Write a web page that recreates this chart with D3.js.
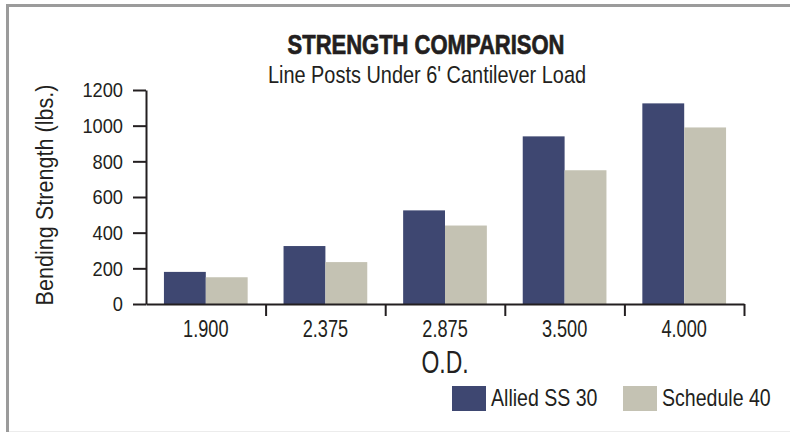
<!DOCTYPE html>
<html>
<head>
<meta charset="utf-8">
<script src="https://cdn.jsdelivr.net/npm/d3@7"></script>
<style>
  body { margin: 0; background: #fff; }
  svg text { font-family: "Liberation Sans", Arial, sans-serif; fill: #231f20; }
</style>
</head>
<body>
<div id="chart"></div>
<script>
// data
const categories = ["1.900", "2.375", "2.875", "3.500", "4.000"];
const seriesNames = ["Allied SS 30", "Schedule 40"];
const alliedSS30 = [180, 325, 525, 940, 1125];
const schedule40 = [150, 235, 440, 750, 990];
const yTicks = [0, 200, 400, 600, 800, 1000, 1200];

const width = 790;
const height = 432;
const colors = ["#3e4771", "#c4c2b3"];
const ink = "#231f20";

const svg = d3.select("#chart")
  .append("svg")
  .attr("width", width)
  .attr("height", height)
  .style("background", "#fff");

// frame: thick grey line on left and top, faint line at bottom
svg.append("line").attr("x1", 7.5).attr("x2", 7.5).attr("y1", 4).attr("y2", height)
  .attr("stroke", "#9b9b9b").attr("stroke-width", 3);
svg.append("line").attr("x1", 6).attr("x2", width).attr("y1", 5.5).attr("y2", 5.5)
  .attr("stroke", "#9b9b9b").attr("stroke-width", 3);
svg.append("line").attr("x1", 9).attr("x2", width).attr("y1", 431.5).attr("y2", 431.5)
  .attr("stroke", "#ececec").attr("stroke-width", 1);

const plot = { left: 146, right: 744, top: 90, bottom: 304 };

const y = d3.scaleLinear()
  .domain([0, 1200])
  .range([plot.bottom, plot.top]);

const x = d3.scaleBand()
  .domain(categories)
  .range([plot.left, plot.right])
  .paddingInner(0.3)
  .paddingOuter(0.15);

const x1 = d3.scaleBand()
  .domain(seriesNames)
  .range([0, x.bandwidth()]);

// boundary ticks between categories
const xEdge = d3.scaleLinear()
  .domain([0, categories.length])
  .range([plot.left, plot.right]);

// condensed text helper (the original face is a condensed grotesk)
function ctext(parent, str, tx, ty, size, k, opts = {}) {
  const g = parent.append("g")
    .attr("transform", `translate(${tx},${ty})${opts.rotate ? " rotate(" + opts.rotate + ")" : ""} scale(${k},1)`);
  const t = g.append("text")
    .attr("text-anchor", opts.anchor || "start")
    .style("font-size", size + "px")
    .style("font-weight", opts.weight || "normal")
    .text(str);
  if (opts.heavy) t.attr("stroke", ink).attr("stroke-width", opts.heavy);
  return g;
}

// bars
const rows = categories.map((c, i) => ({ cat: c, values: [alliedSS30[i], schedule40[i]] }));

svg.append("g")
  .selectAll("g")
  .data(rows)
  .join("g")
  .attr("transform", d => `translate(${x(d.cat)},0)`)
  .selectAll("rect")
  .data(d => d.values.map((v, j) => ({ name: seriesNames[j], v, j })))
  .join("rect")
  .attr("x", d => x1(d.name))
  .attr("y", d => y(d.v))
  .attr("width", x1.bandwidth())
  .attr("height", d => y(0) - y(d.v))
  .attr("fill", d => colors[d.j]);

// y axis
const yK = 0.87;
const yAxis = svg.append("g")
  .attr("transform", `translate(${plot.left},0)`)
  .call(d3.axisLeft(y).tickValues(yTicks).tickFormat(d3.format("d"))
    .tickSize(13).tickSizeOuter(0).tickPadding(10));
yAxis.selectAll("path, line").attr("stroke", ink).attr("stroke-width", 2);
yAxis.selectAll("text")
  .attr("fill", ink)
  .style("font-size", "21px")
  .style("font-family", "Liberation Sans, Arial, sans-serif")
  .attr("x", -23 / yK)
  .attr("transform", `scale(${yK},1)`);

// x axis: labels at band centres
const xK = 0.79;
const xAxis = svg.append("g")
  .attr("transform", `translate(0,${plot.bottom})`)
  .call(d3.axisBottom(x).tickSize(0).tickSizeOuter(0));
xAxis.select(".domain").attr("stroke", ink).attr("stroke-width", 2);
xAxis.selectAll("text")
  .attr("fill", ink)
  .attr("dy", null)
  .attr("y", 33)
  .style("font-size", "23px")
  .style("font-family", "Liberation Sans, Arial, sans-serif")
  .attr("transform", `scale(${xK},1)`);

// x axis: ticks at band edges
const edgeAxis = svg.append("g")
  .attr("transform", `translate(0,${plot.bottom})`)
  .call(d3.axisBottom(xEdge).tickValues(d3.range(1, categories.length + 1)).tickSize(12).tickSizeOuter(0).tickFormat(""));
edgeAxis.select(".domain").remove();
edgeAxis.selectAll("line").attr("stroke", ink).attr("stroke-width", 2);

// titles
ctext(svg, "STRENGTH COMPARISON", 426, 54, 27.5, 0.8, { anchor: "middle", weight: "bold", heavy: 0.7 });
ctext(svg, "Line Posts Under 6' Cantilever Load", 427, 83, 24, 0.83, { anchor: "middle" });
ctext(svg, "O.D.", (plot.left + plot.right) / 2, 373, 31, 0.74, { anchor: "middle" });
ctext(svg, "Bending Strength (lbs.)", 53, 195, 24, 0.9, { anchor: "middle", rotate: -90 });

// legend
const legendX = [452, 623];
seriesNames.forEach((name, i) => {
  svg.append("rect")
    .attr("x", legendX[i])
    .attr("y", 386)
    .attr("width", 34)
    .attr("height", 25)
    .attr("fill", colors[i]);
  ctext(svg, name, legendX[i] + 39, 406, 24, 0.815);
});
</script>
</body>
</html>
